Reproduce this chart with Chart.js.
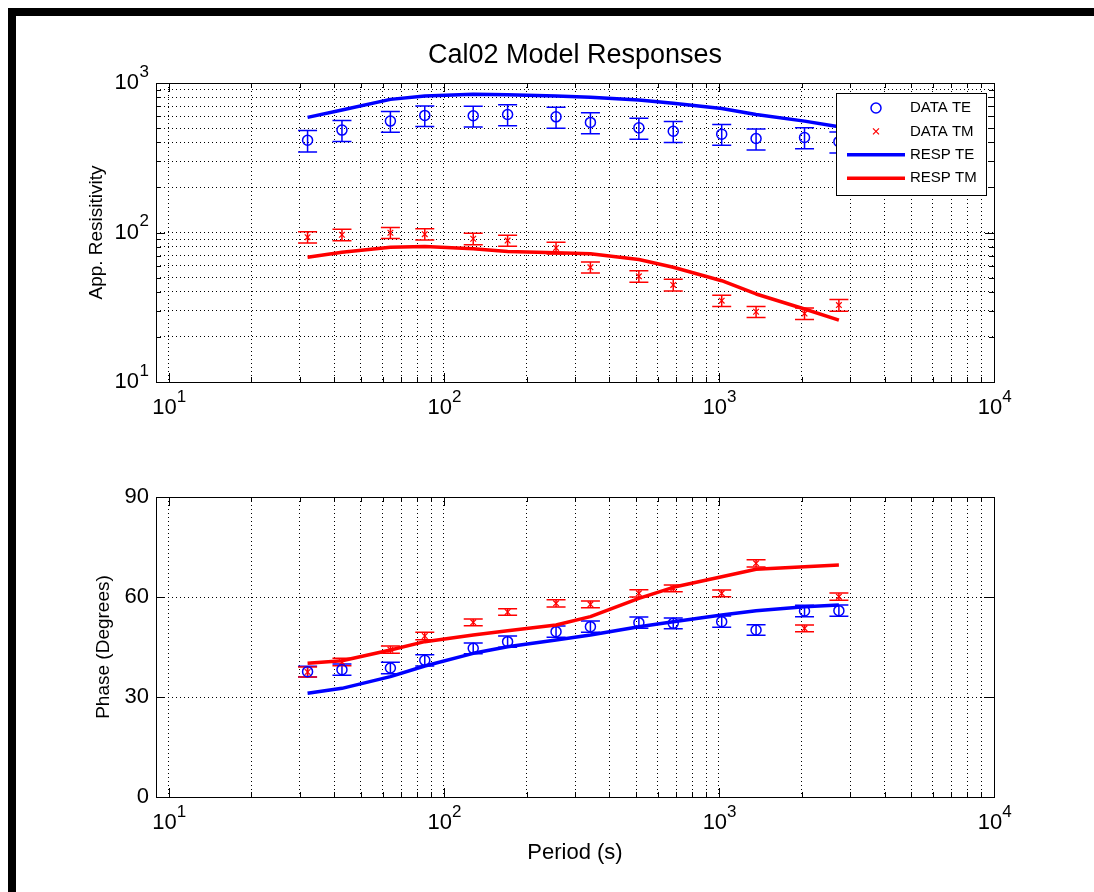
<!DOCTYPE html>
<html>
<head>
<meta charset="utf-8">
<title>Cal02 Model Responses</title>
<script src="https://cdn.jsdelivr.net/npm/chart.js@4/dist/chart.umd.min.js"></script>
<style>
  html, body { margin: 0; padding: 0; background: #fff; }
  body { width: 1094px; height: 892px; position: relative; overflow: hidden; }
  #frame { position: absolute; left: 8px; top: 8px; right: 0; bottom: 0;
           border-top: 8px solid #000; border-left: 8px solid #000; }
  canvas { position: absolute; left: 0; }
  #rhoChart { top: 0; }
  #phaseChart { top: 440px; }
</style>
</head>
<body>
<div id="frame"></div>
<canvas id="rhoChart" width="1094" height="440"></canvas>
<canvas id="phaseChart" width="1094" height="452"></canvas>
<script>
// periods (s) of the 14 soundings
const periods = [32, 42.67, 64, 85.33, 128, 170.67, 256, 341.33, 512, 682.67, 1024, 1365.33, 2048, 2730.67];

// apparent resistivity (ohm.m)
const rhoTE      = [414, 484, 556, 607, 604, 616, 594, 545, 501, 476, 455, 425, 432, 405];
const rhoTEErr   = [68, 78, 88, 96, 96, 98, 95, 87, 80, 76, 72, 68, 69, 65];
const rhoTM      = [93, 96.6, 99.6, 97.5, 90.8, 88.3, 78.9, 58.5, 50.9, 44.6, 35.0, 29.5, 28.7, 32.7];
const rhoTMErr   = [8, 8.5, 8.5, 8.5, 8, 7.5, 7, 5, 4.5, 4, 3, 2.5, 2.5, 3];
const respRhoTE  = [589, 659, 777, 818, 840, 835, 818, 802, 769, 731, 676, 616, 556, 509];
const respRhoTM  = [68.2, 73.8, 79.6, 80.6, 77.8, 74.5, 73.1, 72.0, 65.9, 58.5, 47.6, 38.8, 30.8, 25.9];

// phase (degrees)
const phaseTE     = [37.6, 38.2, 38.7, 41.0, 44.6, 46.6, 49.6, 51.1, 52.3, 52.1, 52.6, 50.1, 55.8, 55.9];
const phaseTEErr  = [1.6, 1.7, 1.7, 1.7, 1.6, 1.7, 1.7, 1.7, 1.7, 1.6, 1.7, 1.6, 1.7, 1.7];
const phaseTM     = [37.5, 40.5, 44.2, 48.3, 52.4, 55.5, 58.1, 57.8, 61.1, 62.6, 61.1, 70.1, 50.6, 60.1];
const phaseTMErr  = [1.5, 1.1, 1.1, 1.1, 1.0, 1.0, 1.1, 1.0, 1.1, 1.0, 1.0, 1.1, 1.0, 1.1];
const respPhaseTE = [31.1, 32.6, 36.1, 39.3, 43.1, 45.1, 47.1, 48.6, 51.1, 52.6, 54.6, 55.9, 57.1, 57.6];
const respPhaseTM = [40.1, 40.9, 44.1, 46.6, 48.6, 49.9, 51.6, 54.1, 59.6, 62.9, 66.1, 68.3, 69.1, 69.6];

// axis ticks
const decades = [10, 100, 1000, 10000];
const decadeBase = '10';
const decadeExponents = ['1', '2', '3', '4'];
const phaseTicks = [0, 30, 60, 90];

const BLUE = '#0000ff';
const RED = '#ff0000';
const FONT = "'Liberation Sans', Arial, Helvetica, sans-serif";
const TICK_SIZE = 22;

function toPoints(ys) {
	return periods.map((p, i) => ({ x: p, y: ys[i] }));
}

// 1..9 x each decade, matlab style minor grid
function logTicks(lo, hi) {
	const out = [];
	decades.forEach(d => {
		for (let m = 1; m < 10; m++) {
			const v = d * m;
			if (v >= lo && v <= hi) out.push({ value: v });
		}
	});
	return out;
}

function decadeLabel(value) {
	return decades.includes(value) ? decadeBase : '';
}

// vertical error bars with caps, under the markers
const errorBars = {
	id: 'errorBars',
	beforeDatasetsDraw(chart) {
		const { ctx, chartArea: a, scales: { x, y } } = chart;
		ctx.save();
		ctx.beginPath();
		ctx.rect(a.left, a.top, a.width, a.height);
		ctx.clip();
		chart.data.datasets.forEach(ds => {
			if (!ds.errors) return;
			ctx.strokeStyle = ds.borderColor;
			ctx.lineWidth = 1.5;
			ds.data.forEach((p, i) => {
				const px = x.getPixelForValue(p.x);
				const top = y.getPixelForValue(p.y + ds.errors[i]);
				const bot = y.getPixelForValue(p.y - ds.errors[i]);
				ctx.beginPath();
				ctx.moveTo(px, top); ctx.lineTo(px, bot);
				ctx.moveTo(px - 9.5, top); ctx.lineTo(px + 9.5, top);
				ctx.moveTo(px - 9.5, bot); ctx.lineTo(px + 9.5, bot);
				ctx.stroke();
			});
		});
		ctx.restore();
	}
};

// axes box with inward ticks on all four sides
const matlabBox = {
	id: 'matlabBox',
	afterDatasetsDraw(chart) {
		const { ctx, chartArea: a, scales: { x, y } } = chart;
		const L = Math.round(a.left), R = Math.round(a.right), T = Math.round(a.top), B = Math.round(a.bottom);
		ctx.save();
		ctx.strokeStyle = '#000';
		ctx.lineWidth = 1;
		ctx.beginPath();
		x.ticks.forEach(t => {
			const px = Math.round(x.getPixelForValue(t.value)) + 0.5;
			const len = decades.includes(t.value) ? 9 : 5;
			ctx.moveTo(px, B); ctx.lineTo(px, B - len);
			ctx.moveTo(px, T); ctx.lineTo(px, T + len);
		});
		y.ticks.forEach(t => {
			const py = Math.round(y.getPixelForValue(t.value)) + 0.5;
			const len = (y.type !== 'logarithmic' || decades.includes(t.value)) ? 9 : 5;
			ctx.moveTo(L, py); ctx.lineTo(L + len, py);
			ctx.moveTo(R, py); ctx.lineTo(R - len, py);
		});
		ctx.stroke();
		ctx.strokeRect(L + 0.5, T + 0.5, R - L, B - T);
		ctx.restore();
	}
};

// raised exponent after each "10" decade label
const exponents = {
	id: 'exponents',
	afterDraw(chart) {
		const { ctx } = chart;
		ctx.save();
		ctx.fillStyle = '#000';
		ctx.textBaseline = 'middle';
		Object.values(chart.scales).forEach(s => {
			if (s.type !== 'logarithmic') return;
			ctx.font = TICK_SIZE + 'px ' + FONT;
			const baseW = ctx.measureText(decadeBase).width;
			ctx.font = '17px ' + FONT;
			decades.forEach((d, i) => {
				if (d < s.min || d > s.max) return;
				const p = s.getPixelForValue(d);
				if (s.isHorizontal()) {
					const cy = s.top + s.options.ticks.padding + TICK_SIZE * 0.6;
					ctx.textAlign = 'left';
					ctx.fillText(decadeExponents[i], p + s.options.ticks.labelOffset + baseW / 2, cy - 11);
				} else {
					ctx.textAlign = 'right';
					ctx.fillText(decadeExponents[i], s.right - 7, p - 11);
				}
			});
		});
		ctx.restore();
	}
};

// boxed legend in the upper right of the axes
const boxLegend = {
	id: 'boxLegend',
	afterDraw(chart) {
		const { ctx, chartArea: a } = chart;
		const w = 150, h = 102;
		const left = Math.round(a.right) - 8 - w;
		const top = Math.round(a.top) + 10;
		ctx.save();
		ctx.fillStyle = '#fff';
		ctx.fillRect(left, top, w, h);
		ctx.strokeStyle = '#000';
		ctx.lineWidth = 1;
		ctx.strokeRect(left + 0.5, top + 0.5, w, h);
		ctx.font = '15px ' + FONT;
		ctx.textBaseline = 'middle';
		ctx.textAlign = 'left';
		chart.data.datasets.forEach((ds, i) => {
			const cy = top + 15 + i * 23.4;
			const mx = left + 40;
			ctx.strokeStyle = ds.borderColor;
			ctx.beginPath();
			if (ds.showLine) {
				ctx.lineWidth = 3.5;
				ctx.moveTo(left + 11, cy); ctx.lineTo(left + 69, cy);
			} else if (ds.pointStyle === 'circle') {
				ctx.lineWidth = 1.5;
				ctx.arc(mx, cy, 5, 0, Math.PI * 2);
			} else {
				ctx.lineWidth = 1.2;
				ctx.moveTo(mx - 3, cy - 3); ctx.lineTo(mx + 3, cy + 3);
				ctx.moveTo(mx - 3, cy + 3); ctx.lineTo(mx + 3, cy - 3);
			}
			ctx.stroke();
			ctx.fillStyle = '#000';
			ctx.fillText(ds.label, left + 74, cy);
		});
		ctx.restore();
	}
};

function dataSet(label, ys, errs, color, style) {
	return {
		label: label,
		data: toPoints(ys),
		errors: errs,
		borderColor: color,
		backgroundColor: 'rgba(0,0,0,0)',
		pointStyle: style,
		pointRadius: style === 'circle' ? 5 : 4,
		pointBorderWidth: style === 'circle' ? 1.5 : 1.2,
		pointBorderColor: color,
		pointBackgroundColor: 'rgba(0,0,0,0)',
		showLine: false,
		order: 1
	};
}

function respSet(label, ys, color) {
	return {
		label: label,
		data: toPoints(ys),
		borderColor: color,
		backgroundColor: color,
		borderWidth: 3.5,
		borderJoinStyle: 'round',
		pointRadius: 0,
		showLine: true,
		tension: 0,
		order: 0
	};
}

const gridOpts = { color: '#000', lineWidth: 1, drawTicks: false };
const dottedBorder = { display: false, dash: [1, 3] };

function periodAxis(height, title) {
	return {
		type: 'logarithmic',
		min: 9,
		max: 10000,
		afterBuildTicks: s => { s.ticks = logTicks(10, 10000); },
		afterFit: s => { s.height = height; },
		grid: gridOpts,
		border: dottedBorder,
		ticks: {
			autoSkip: false,
			maxRotation: 0,
			padding: 13,
			labelOffset: -4,
			color: '#000',
			font: { family: FONT, size: TICK_SIZE },
			callback: v => decadeLabel(v)
		},
		title: title
	};
}

new Chart(document.getElementById('rhoChart'), {
	type: 'scatter',
	data: {
		datasets: [
			dataSet('DATA TE', rhoTE, rhoTEErr, BLUE, 'circle'),
			dataSet('DATA TM', rhoTM, rhoTMErr, RED, 'crossRot'),
			respSet('RESP TE', respRhoTE, BLUE),
			respSet('RESP TM', respRhoTM, RED)
		]
	},
	plugins: [errorBars, matlabBox, exponents, boxLegend],
	options: {
		responsive: false,
		animation: false,
		events: [],
		layout: { padding: { top: 42, right: 100, left: 0, bottom: 0 } },
		plugins: {
			legend: { display: false },
			tooltip: { enabled: false },
			title: {
				display: true,
				fullSize: false,
				text: 'Cal02 Model Responses',
				color: '#000',
				font: { family: FONT, size: 27, weight: 'normal', lineHeight: 1 },
				padding: { top: 0, bottom: 14 }
			}
		},
		scales: {
			x: periodAxis(58, { display: false }),
			y: {
				type: 'logarithmic',
				min: 10,
				max: 1000,
				afterBuildTicks: s => { s.ticks = logTicks(10, 1000); },
				afterFit: s => { s.width = 156; },
				grid: gridOpts,
				border: dottedBorder,
				ticks: {
					autoSkip: false,
					padding: 17,
					color: '#000',
					font: { family: FONT, size: TICK_SIZE },
					callback: v => decadeLabel(v)
				},
				title: {
					display: true,
					text: 'App. Resisitivity',
					color: '#000',
					font: { family: FONT, size: 19 },
					padding: { top: 85 }
				}
			}
		}
	}
});

new Chart(document.getElementById('phaseChart'), {
	type: 'scatter',
	data: {
		datasets: [
			dataSet('DATA TE', phaseTE, phaseTEErr, BLUE, 'circle'),
			dataSet('DATA TM', phaseTM, phaseTMErr, RED, 'crossRot'),
			respSet('RESP TE', respPhaseTE, BLUE),
			respSet('RESP TM', respPhaseTM, RED)
		]
	},
	plugins: [errorBars, matlabBox, exponents],
	options: {
		responsive: false,
		animation: false,
		events: [],
		layout: { padding: { top: 57, right: 100, left: 0, bottom: 0 } },
		plugins: {
			legend: { display: false },
			tooltip: { enabled: false }
		},
		scales: {
			x: periodAxis(95, {
				display: true,
				text: 'Period (s)',
				color: '#000',
				font: { family: FONT, size: 22 },
				padding: { bottom: 26 }
			}),
			y: {
				type: 'linear',
				min: 0,
				max: 90,
				afterBuildTicks: s => { s.ticks = phaseTicks.map(v => ({ value: v })); },
				afterFit: s => { s.width = 156; },
				grid: gridOpts,
				border: dottedBorder,
				ticks: {
					padding: 7,
					color: '#000',
					font: { family: FONT, size: TICK_SIZE }
				},
				title: {
					display: true,
					text: 'Phase (Degrees)',
					color: '#000',
					font: { family: FONT, size: 19 },
					padding: { top: 92 }
				}
			}
		}
	}
});
</script>
</body>
</html>
